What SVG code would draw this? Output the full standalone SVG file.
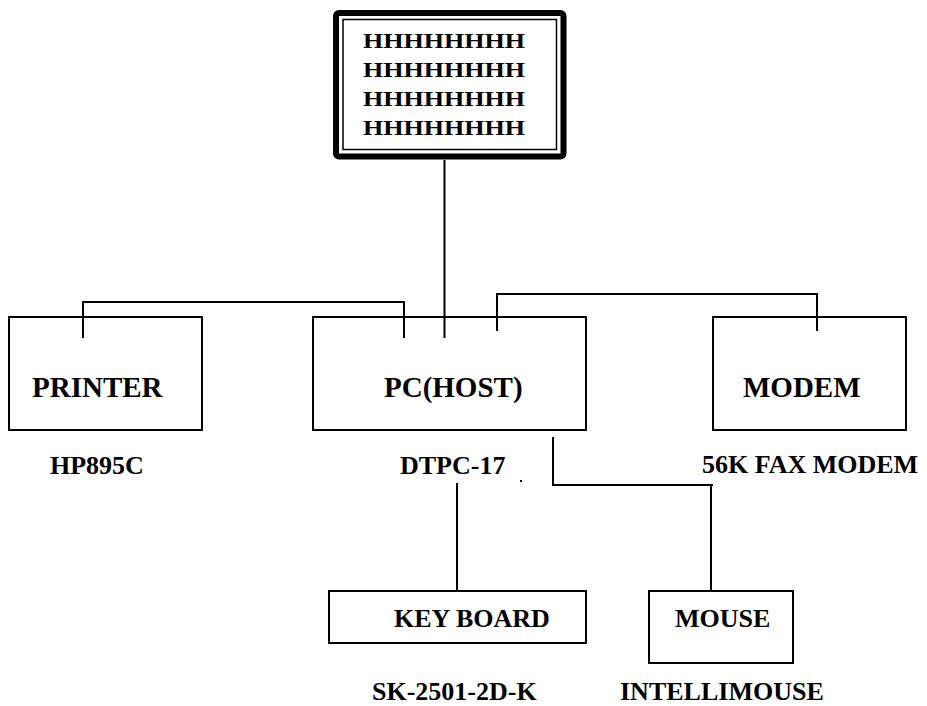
<svg xmlns="http://www.w3.org/2000/svg" width="927" height="706" viewBox="0 0 927 706">
<style>
.box{fill:#fff;stroke:#000;stroke-width:2}
.ln{fill:none;stroke:#000;stroke-width:2}
.t{font-family:"Liberation Serif","Times New Roman",serif;font-weight:bold;fill:#000}
.m{font-size:29px}
.s{font-size:26px}
.h{font-size:21px}
</style>
<rect width="927" height="706" fill="#fff"/>
<g id="connectors">
<path class="ln" d="M444.5,160 V338"/>
<path class="ln" d="M83,338 V302 H404 V338"/>
<path class="ln" d="M497,331 V294 H817 V331"/>
<path class="ln" d="M553,437 V485 H713 M711,485 V591"/>
<path class="ln" d="M457,483 V591"/>
</g>
<g id="monitor">
<rect x="336" y="13" width="227.5" height="143.5" rx="3" fill="#fff" stroke="#000" stroke-width="6"/>
<rect x="343" y="19.5" width="213.5" height="130" fill="none" stroke="#000" stroke-width="1.5"/>
<text class="t h" x="363" y="48" textLength="162" lengthAdjust="spacingAndGlyphs">HHHHHHHH</text>
<text class="t h" x="363" y="77" textLength="162" lengthAdjust="spacingAndGlyphs">HHHHHHHH</text>
<text class="t h" x="363" y="106" textLength="162" lengthAdjust="spacingAndGlyphs">HHHHHHHH</text>
<text class="t h" x="363" y="135" textLength="162" lengthAdjust="spacingAndGlyphs">HHHHHHHH</text>
</g>
<g id="printer">
<rect class="box" x="9" y="317" width="193" height="113"/>
<path class="ln" d="M83,317 V338"/>
<text class="t m" x="32" y="397">PRINTER</text>
<text class="t s" x="50" y="474">HP895C</text>
</g>
<g id="pc">
<rect class="box" x="313" y="317" width="273" height="113"/>
<path class="ln" d="M404,317 V338 M444.5,317 V338 M497,317 V331"/>
<text class="t m" x="384" y="397">PC(HOST)</text>
<text class="t s" x="400" y="474">DTPC-17</text>
</g>
<g id="modem">
<rect class="box" x="713" y="317" width="193" height="113"/>
<path class="ln" d="M817,317 V331"/>
<text class="t m" x="743" y="397">MODEM</text>
<text class="t s" x="702" y="473">56K FAX MODEM</text>
</g>
<g id="keyboard">
<rect class="box" x="329" y="591" width="257" height="52"/>
<text class="t s" x="394" y="627">KEY BOARD</text>
<text class="t s" x="372" y="700">SK-2501-2D-K</text>
</g>
<g id="mouse">
<rect class="box" x="649" y="591" width="144" height="72"/>
<text class="t s" x="675" y="627">MOUSE</text>
<text class="t s" x="620" y="700">INTELLIMOUSE</text>
</g>
<rect x="520" y="480" width="2" height="2" fill="#000"/>
</svg>
